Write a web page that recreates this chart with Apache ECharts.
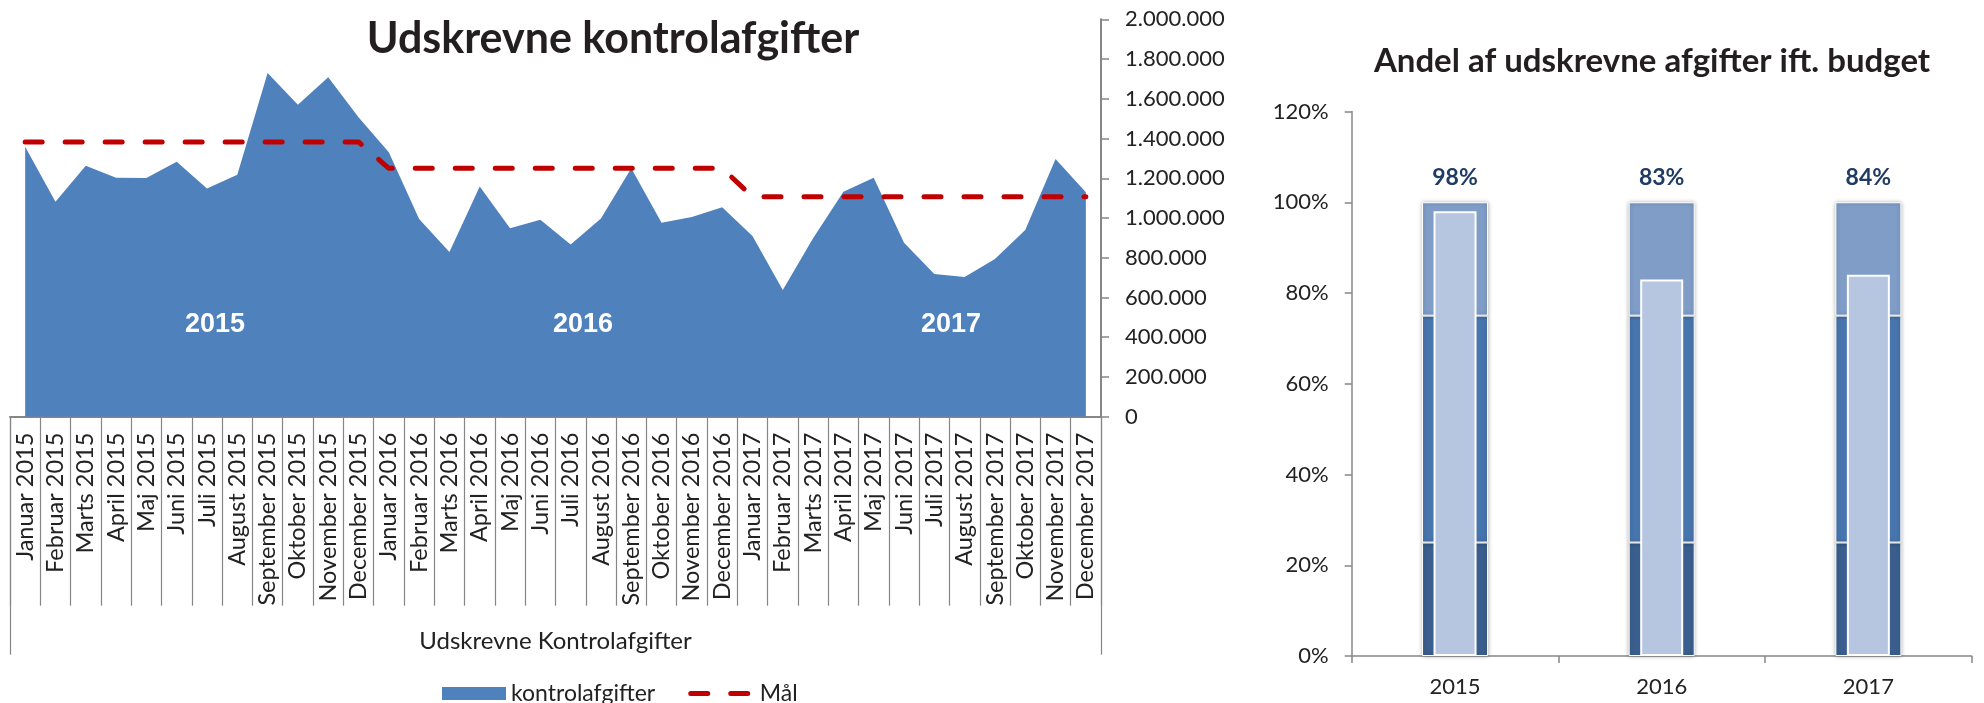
<!DOCTYPE html>
<html>
<head>
<meta charset="utf-8">
<script src="https://cdn.jsdelivr.net/npm/echarts@6/dist/echarts.min.js"></script>
<style>
  html, body { margin: 0; padding: 0; background: #ffffff; }
  #chart { width: 1984px; height: 703px; }
</style>
</head>
<body>
<div id="chart"></div>
<script>
// Monthly categories
const monthNames = ['Januar', 'Februar', 'Marts', 'April', 'Maj', 'Juni', 'Juli',
  'August', 'September', 'Oktober', 'November', 'December'];
const years = ['2015', '2016', '2017'];
const months = years.flatMap(y => monthNames.map(m => m + ' ' + y));

// Issued control fees per month
const kontrolafgifter = [
  1359000, 1082000, 1263000, 1203000, 1201000, 1283000, 1149000, 1218000, 1730000, 1570000, 1708000, 1507000,
  1331000, 995000, 829000, 1159000, 948000, 991000, 867000, 998000, 1250000, 976000, 1005000, 1054000,
  909000, 638000, 898000, 1132000, 1203000, 876000, 718000, 703000, 794000, 940000, 1297000, 1129000
];

// Monthly target (Mål)
const maal = [
  1383000, 1383000, 1383000, 1383000, 1383000, 1383000, 1383000, 1383000, 1383000, 1383000, 1383000, 1383000,
  1250000, 1250000, 1250000, 1250000, 1250000, 1250000, 1250000, 1250000, 1250000, 1250000, 1250000, 1250000,
  1107000, 1107000, 1107000, 1107000, 1107000, 1107000, 1107000, 1107000, 1107000, 1107000, 1107000, 1107000
];

// Share of budget: background bands and actual share per year
const budgetLow = [0.25, 0.25, 0.25];
const budgetMid = [0.50, 0.50, 0.50];
const budgetHigh = [0.25, 0.25, 0.25];
const andel = [0.98, 0.83, 0.84];

const FONT = 'Lato';
const TEXT = '#222222';
const AXIS_GREY = '#868686';

function dkNumber(v) {
  return String(Math.round(v)).replace(/\B(?=(\d{3})+(?!\d))/g, '.');
}

const chart = echarts.init(document.getElementById('chart'), null, { renderer: 'canvas' });

chart.setOption({
  animation: false,
  backgroundColor: '#ffffff',
  textStyle: { fontFamily: FONT },
  grid: [
    { left: 10, right: 883, top: 19.3, bottom: 286.3, outerBoundsMode: 'none' },
    { left: 1351.7, right: 12.3, top: 111.5, bottom: 47, outerBoundsMode: 'none' }
  ],
  legend: {
    left: 437,
    top: 677,
    itemWidth: 64,
    itemHeight: 13,
    itemGap: 33,
    textStyle: { fontFamily: FONT, fontSize: 23, color: TEXT },
    data: [
      { name: 'kontrolafgifter', icon: 'rect' },
      {
        name: 'Mål',
        itemStyle: { color: 'rgba(0,0,0,0)', borderWidth: 0 },
        lineStyle: { width: 5, type: [17, 23], cap: 'round', color: '#C00000' }
      }
    ]
  },
  xAxis: [
    {
      type: 'category', gridIndex: 0, data: months, position: 'bottom',
      axisLine: { lineStyle: { color: AXIS_GREY, width: 2 } },
      axisTick: { show: true, length: 189, lineStyle: { color: AXIS_GREY, width: 1.2 } },
      axisLabel: { interval: 0, rotate: 90, margin: 16, fontFamily: FONT, fontSize: 23.5, color: TEXT }
    },
    {
      type: 'category', gridIndex: 0, data: ['Udskrevne Kontrolafgifter'], position: 'bottom',
      axisLine: { show: false },
      axisTick: { show: true, length: 238, lineStyle: { color: AXIS_GREY, width: 1.2 } },
      axisLabel: { margin: 213, fontFamily: FONT, fontSize: 24, color: TEXT }
    },
    {
      type: 'category', gridIndex: 1, data: years, position: 'bottom',
      axisLine: { lineStyle: { color: AXIS_GREY, width: 1.5 } },
      axisTick: { show: true, length: 7, lineStyle: { color: AXIS_GREY, width: 1.5 } },
      axisLabel: { margin: 20, fontFamily: FONT, fontSize: 22, color: TEXT }
    },
    { type: 'category', gridIndex: 1, data: years, show: false }
  ],
  yAxis: [
    {
      type: 'value', gridIndex: 0, position: 'right', min: 0, max: 2000000, interval: 200000,
      splitLine: { show: false },
      axisLine: { show: true, lineStyle: { color: AXIS_GREY, width: 2 } },
      axisTick: { show: true, length: 8, lineStyle: { color: AXIS_GREY, width: 1.5 } },
      axisLabel: { margin: 24, fontFamily: FONT, fontSize: 22, color: TEXT, formatter: dkNumber }
    },
    {
      type: 'value', gridIndex: 1, position: 'left', min: 0, max: 1.2, interval: 0.2,
      splitLine: { show: false },
      axisLine: { show: true, lineStyle: { color: AXIS_GREY, width: 1.5 } },
      axisTick: { show: true, length: 7, lineStyle: { color: AXIS_GREY, width: 1.5 } },
      axisLabel: { margin: 23, fontFamily: FONT, fontSize: 22, color: TEXT,
        formatter: v => Math.round(v * 100) + '%' }
    }
  ],
  series: [
    {
      name: 'kontrolafgifter', type: 'line', xAxisIndex: 0, yAxisIndex: 0,
      data: kontrolafgifter, symbol: 'none',
      itemStyle: { color: '#4F81BD' },
      lineStyle: { width: 0, color: '#4F81BD' },
      areaStyle: { color: '#4F81BD', opacity: 1 },
      z: 2
    },
    {
      name: 'Mål', type: 'line', xAxisIndex: 0, yAxisIndex: 0,
      data: maal, symbol: 'none',
      itemStyle: { color: '#C00000' },
      lineStyle: { color: '#C00000', width: 5, type: [17, 23], cap: 'round' },
      z: 3
    },
    {
      name: 'lav', type: 'bar', xAxisIndex: 2, yAxisIndex: 1, stack: 'budget', barWidth: 66,
      data: budgetLow, silent: true,
      itemStyle: { color: '#3A5F8E', borderColor: '#ffffff', borderWidth: 1,
        shadowBlur: 4, shadowColor: 'rgba(0,0,0,0.3)' }
    },
    {
      name: 'mellem', type: 'bar', xAxisIndex: 2, yAxisIndex: 1, stack: 'budget', barWidth: 66,
      data: budgetMid, silent: true,
      itemStyle: { color: '#4775AD', borderColor: '#ffffff', borderWidth: 1,
        shadowBlur: 4, shadowColor: 'rgba(0,0,0,0.3)' }
    },
    {
      name: 'høj', type: 'bar', xAxisIndex: 2, yAxisIndex: 1, stack: 'budget', barWidth: 66,
      data: budgetHigh, silent: true,
      itemStyle: { color: '#7F9DC7', borderColor: '#ffffff', borderWidth: 1,
        shadowBlur: 4, shadowColor: 'rgba(0,0,0,0.3)' },
      label: {
        show: true, position: 'top', distance: 13,
        fontFamily: FONT, fontWeight: 'bold', fontSize: 23, color: '#1F3A63',
        formatter: p => Math.round(andel[p.dataIndex] * 100) + '%'
      }
    },
    {
      name: 'andel', type: 'bar', xAxisIndex: 3, yAxisIndex: 1, barWidth: 43,
      data: andel, silent: true,
      itemStyle: { color: '#B6C5E0', borderColor: '#ffffff', borderWidth: 2 },
      z: 4
    }
  ],
  graphic: [
    {
      type: 'text', x: 613, y: 39,
      style: { text: 'Udskrevne kontrolafgifter', fill: '#231F20',
        font: 'bold 43px Lato', textAlign: 'center', textVerticalAlign: 'middle' }
    },
    {
      type: 'text', x: 1652, y: 61,
      style: { text: 'Andel af udskrevne afgifter ift. budget', fill: '#231F20',
        font: 'bold 33px Lato', textAlign: 'center', textVerticalAlign: 'middle' }
    },
    {
      type: 'text', x: 215, y: 325, z: 10,
      style: { text: '2015', fill: '#ffffff', font: 'bold 27px "Liberation Sans"',
        textAlign: 'center', textVerticalAlign: 'middle' }
    },
    {
      type: 'text', x: 583, y: 325, z: 10,
      style: { text: '2016', fill: '#ffffff', font: 'bold 27px "Liberation Sans"',
        textAlign: 'center', textVerticalAlign: 'middle' }
    },
    {
      type: 'text', x: 951, y: 325, z: 10,
      style: { text: '2017', fill: '#ffffff', font: 'bold 27px "Liberation Sans"',
        textAlign: 'center', textVerticalAlign: 'middle' }
    }
  ]
});
</script>
</body>
</html>
